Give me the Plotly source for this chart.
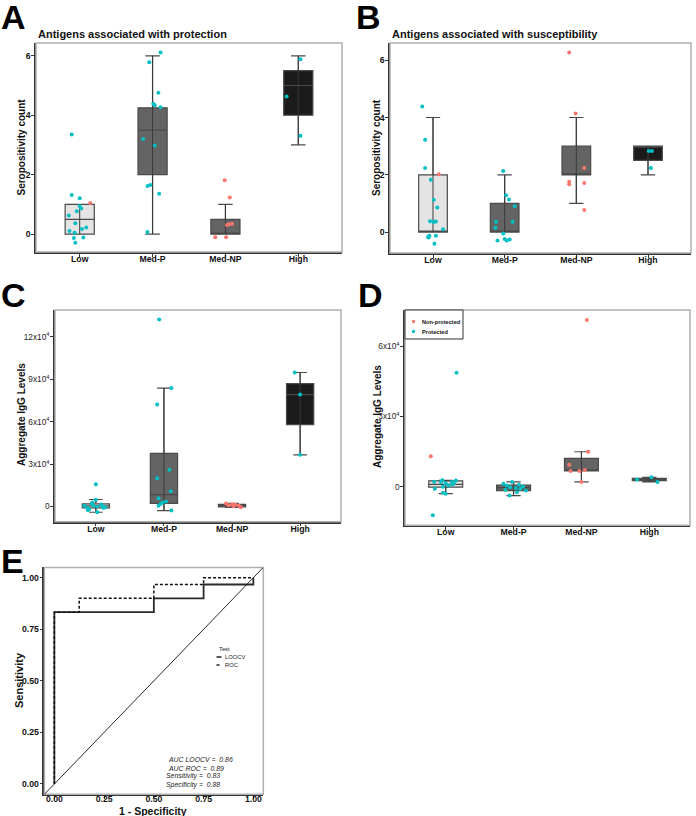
import plotly.graph_objects as go

W, H = 696, 816
FONT = "Liberation Sans, Arial, sans-serif"

categories = ["Low", "Med-P", "Med-NP", "High"]
box_fills = ["#E4E4E4", "#646464", "#646464", "#1B1B1B"]
C_PROT = "#00BFC4"
C_NONP = "#F8766D"

# status of each subject inside each group (N = non-protected, P = protected)
STATUS = {
    "Low": "NPPPPPPPPPPPPPPP",
    "Med-P": "PPPPPPPPPPPP",
    "Med-NP": "NNNNNNN",
    "High": "PPP",
}

# ---------------- Panel A : seropositivity, protection antigens ----------------
a_q1 = [0, 2, 0, 4]
a_med = [0.5, 3.5, 0, 5]
a_q3 = [1, 4.25, 0.5, 5.5]
a_lo = [0, 0, 0, 3]
a_hi = [1, 6, 1, 6]
a_y = {
    "Low": [1.05, 3.35, 1.32, 1.21, 0.95, 0.86, 0.77, 0.63, 0.37, 0.22, 0.17, 0.11, 0.05, -0.11, -0.13, -0.29],
    "Med-P": [6.11, 5.78, 4.76, 4.39, 4.34, 4.27, 3.20, 2.98, 1.65, 1.62, 1.36, 0.07],
    "Med-NP": [1.81, 1.23, 0.31, 0.35, 0.33, -0.10, -0.10],
    "High": [5.88, 4.63, 3.31],
}
a_jit = {
    "Low": [0.145, -0.11, -0.11, 0.0, 0.0, 0.02, -0.04, -0.15, -0.06, 0.09, 0.03, -0.14, -0.07, 0.05, -0.08, -0.06],
    "Med-P": [0.11, -0.045, 0.08, 0.01, 0.03, 0.11, -0.13, 0.03, -0.03, -0.07, 0.09, -0.07],
    "Med-NP": [-0.01, 0.06, 0.02, 0.09, 0.05, -0.14, 0.01],
    "High": [0.03, -0.16, 0.03],
}

# ---------------- Panel B : seropositivity, susceptibility antigens ----------------
b_q1 = [0, 0, 2, 2.5]
b_med = [0, 0, 2, 3]
b_q3 = [2, 1, 3, 3]
b_lo = [0, 0, 1, 2]
b_hi = [4, 2, 4, 3]
b_y = {
    "Low": [2.02, 4.38, 3.22, 2.24, 1.83, 1.13, 0.86, 0.38, 0.35, 0.37, 0.10, -0.17, -0.13, -0.13, -0.41, -0.19],
    "Med-P": [2.13, 1.29, 1.14, 0.90, 0.36, 0.36, 0.15, -0.05, -0.29, -0.24, -0.29, -0.26],
    "Med-NP": [6.27, 4.14, 2.24, 1.76, 1.67, 1.71, 0.77],
    "High": [2.83, 2.83, 2.24],
}
b_jit = {
    "Low": [0.08, -0.15, -0.11, -0.11, -0.03, 0.01, 0.06, -0.04, 0.01, 0.04, 0.14, -0.07, -0.05, 0.04, 0.02, -0.06],
    "Med-P": [-0.02, 0.02, 0.06, 0.14, -0.12, 0.11, -0.13, -0.02, -0.10, 0.0, 0.03, 0.07],
    "Med-NP": [-0.10, -0.01, 0.11, -0.10, -0.10, 0.11, 0.11],
    "High": [0.01, 0.055, 0.04],
}

# ---------------- Panel C : aggregate IgG, protection antigens ----------------
c_q1 = [-900, 2300, -200, 57900]
c_med = [500, 8500, 800, 79200]
c_q3 = [1900, 37600, 1600, 87000]
c_lo = [-4000, -2800, -500, 36600]
c_hi = [5000, 83800, 2200, 94800]
c_y = {
    "Low": [1000, 15800, 4800, 2800, 2000, 1500, 500, 500, 200, 0, -400, -900, -900, -2100, -2400, -4000],
    "Med-P": [132300, 83800, 72100, 26000, 20100, 10800, 5900, 3500, 2800, 1900, 500, -2800],
    "Med-NP": [2200, 1700, 1300, 900, 600, 300, -400],
    "High": [94800, 79200, 36600],
}
c_jit = {
    "Low": [0.0, 0.0, 0.0, -0.05, -0.06, 0.08, -0.17, -0.03, 0.10, 0.02, 0.14, -0.12, 0.11, -0.10, -0.12, 0.02],
    "Med-P": [-0.07, 0.11, -0.10, 0.08, -0.10, 0.10, -0.08, 0.03, -0.02, -0.05, -0.08, 0.11],
    "Med-NP": [-0.09, 0.0, 0.05, -0.05, 0.10, 0.02, 0.13],
    "High": [-0.08, 0.0, 0.0],
}

# ---------------- Panel D : aggregate IgG, susceptibility antigens ----------------
d_q1 = [-200, -1700, 6700, 2550]
d_med = [1000, -400, 7000, 3100]
d_q3 = [2500, 700, 12100, 3550]
d_lo = [-3000, -3800, 2000, 2000]
d_hi = [2700, 2000, 14900, 4000]
d_y = {
    "Low": [13000, 48600, -12200, 2700, 2600, 2100, 2000, 2000, 1400, 1400, 900, 500, 0, -900, -2600, -3000],
    "Med-P": [2000, 1200, 800, 500, 100, -300, -600, -900, -1300, -1600, -2400, -3800],
    "Med-NP": [71100, 14900, 9300, 7100, 6700, 6700, 2000],
    "High": [4000, 3100, 2000],
}
d_jit = {
    "Low": [-0.22, 0.16, -0.19, -0.05, 0.15, -0.17, 0.09, -0.07, 0.12, 0.0, 0.10, 0.04, -0.04, -0.16, -0.04, 0.0],
    "Med-P": [-0.02, -0.15, 0.08, -0.10, 0.14, -0.05, 0.03, 0.10, -0.12, 0.18, 0.05, -0.06],
    "Med-NP": [0.08, 0.10, -0.18, 0.05, -0.16, -0.03, 0.0],
    "High": [0.03, -0.18, 0.12],
}

# ---------------- Panel E : ROC curves ----------------
loocv_fpr = [0, 0, 0.5, 0.75, 1.0]
loocv_tpr = [0, 0.833, 0.9, 0.967, 1.0]
roc_fpr = [0, 0, 0.125, 0.5, 0.75, 1.0]
roc_tpr = [0, 0.833, 0.9, 0.967, 1.0, 1.0]
e_stats = ["AUC LOOCV =  0.86", "AUC ROC =  0.89", "Sensitivity =  0.83", "Specificity =  0.88"]
e_ticks = [0, 0.25, 0.5, 0.75, 1.0]

# ---------------- layout helpers ----------------
def px(x):
    return x / W


def py(y):
    return 1 - y / H


fig = go.Figure()

BOX_LINE = "#4a4a4a"
WHISK = "#3a3a3a"


def axis_names(k):
    return ("x" if k == 1 else f"x{k}"), ("y" if k == 1 else f"y{k}")


def add_box_panel(k, ys, jit, q1, med, q3, lo, hi, width, capfrac):
    xa, ya = axis_names(k)
    for i, cat in enumerate(categories):
        fig.add_trace(go.Box(
            x=[i], q1=[q1[i]], median=[med[i]], q3=[q3[i]],
            lowerfence=[lo[i]], upperfence=[hi[i]],
            width=width, whiskerwidth=capfrac, fillcolor=box_fills[i],
            line=dict(color=BOX_LINE, width=1.2), boxpoints=False,
            xaxis=xa, yaxis=ya, showlegend=False, hoverinfo="skip"))
        fig.add_trace(go.Scatter(
            x=[i, i], y=[lo[i], hi[i]], mode="lines",
            line=dict(color=WHISK, width=1), xaxis=xa, yaxis=ya,
            showlegend=False, hoverinfo="skip"))
    for st, color, name in [("N", C_NONP, "Non-protected"), ("P", C_PROT, "Protected")]:
        xs, yv = [], []
        for i, cat in enumerate(categories):
            for y, d, s in zip(ys[cat], jit[cat], STATUS[cat]):
                if s == st:
                    xs.append(i + d)
                    yv.append(y)
        fig.add_trace(go.Scatter(
            x=xs, y=yv, mode="markers", name=name,
            marker=dict(color=color, size=4), xaxis=xa, yaxis=ya,
            showlegend=False))


add_box_panel(1, a_y, a_jit, a_q1, a_med, a_q3, a_lo, a_hi, 0.4, 0.5)
add_box_panel(2, b_y, b_jit, b_q1, b_med, b_q3, b_lo, b_hi, 0.4, 0.5)
add_box_panel(3, c_y, c_jit, c_q1, c_med, c_q3, c_lo, c_hi, 0.4, 0.5)
add_box_panel(4, d_y, d_jit, d_q1, d_med, d_q3, d_lo, d_hi, 0.5, 0.42)

# ROC
fig.add_trace(go.Scatter(x=loocv_fpr, y=loocv_tpr, mode="lines", name="LOOCV",
                         line=dict(color="#2a2a2a", width=1.8, shape="hv"),
                         xaxis="x5", yaxis="y5", showlegend=False))
fig.add_trace(go.Scatter(x=roc_fpr, y=roc_tpr, mode="lines", name="ROC",
                         line=dict(color="#111111", width=1.5, shape="hv", dash="3px,2px"),
                         xaxis="x5", yaxis="y5", showlegend=False))

domains = {
    1: ([36, 342], [43, 252]),
    2: ([390, 691], [43, 253]),
    3: ([55, 341], [310, 521.7]),
    4: ([405, 690], [310, 525.3]),
    5: ([44.4, 263.3], [567.4, 794.3]),
}

sup = lambda n: f"{n}x10<sup>4</sup>"
yranges = {1: [-0.6, 6.43], 2: [-0.73, 6.6], 3: [-10700, 139000], 4: [-16500, 75400], 5: [-0.05, 1.05]}
yticks = {
    1: ([0, 2, 4, 6], ["0", "2", "4", "6"]),
    2: ([0, 2, 4, 6], ["0", "2", "4", "6"]),
    3: ([0, 30000, 60000, 90000, 120000], ["0", sup(3), sup(6), sup(9), sup(12)]),
    4: ([0, 30000, 60000], ["0", sup(3), sup(6)]),
    5: (e_ticks, [f"{v:.2f}" for v in e_ticks]),
}

bold9 = dict(family=FONT, size=8.7, color="#111", weight="bold")
reg8 = dict(family=FONT, size=8.3, color="#262626")

layout = dict(
    width=W, height=H, autosize=False,
    margin=dict(l=0, r=0, t=0, b=0),
    paper_bgcolor="white", plot_bgcolor="white",
    font=dict(family=FONT, color="#111"),
    showlegend=False,
)

for k, (dx, dy) in domains.items():
    xn = "xaxis" if k == 1 else f"xaxis{k}"
    yn = "yaxis" if k == 1 else f"yaxis{k}"
    common = dict(showline=True, linecolor="#333", linewidth=1.5, mirror=False,
                  ticks="outside", ticklen=3, tickcolor="#333", tickwidth=1,
                  showgrid=False, zeroline=False, fixedrange=True)
    if k == 5:
        xr = [-0.05, 1.05]
        xtv, xtt = e_ticks, [f"{v:.2f}" for v in e_ticks]
        xstand = -7
    else:
        xr = [-0.6, 3.6]
        xtv, xtt = [0, 1, 2, 3], categories
        xstand = -5
    layout[xn] = dict(domain=[px(dx[0]), px(dx[1])], range=xr, tickvals=xtv, ticktext=xtt,
                      tickfont=bold9, ticklabelstandoff=xstand,
                      anchor="y" if k == 1 else f"y{k}", **common)
    layout[yn] = dict(domain=[py(dy[1]), py(dy[0])], range=yranges[k],
                      tickvals=yticks[k][0], ticktext=yticks[k][1],
                      tickfont=reg8 if k in (3, 4) else bold9, ticklabelstandoff=-1,
                      anchor="x" if k == 1 else f"x{k}", **common)

shapes = []
for k in domains:
    xa, ya = axis_names(k)
    shapes.append(dict(type="rect", xref=f"{xa} domain", yref=f"{ya} domain",
                       x0=0, x1=1, y0=0, y1=1, line=dict(color="#b0b0b0", width=1.5),
                       layer="above"))
# identity reference line in panel E
shapes.append(dict(type="line", xref="x5", yref="y5",
                   x0=yranges[5][0], y0=yranges[5][0], x1=yranges[5][1], y1=yranges[5][1],
                   line=dict(color="#111", width=0.9)))

ann = []
def text(x, y, t, size, bold=True, angle=0, xanchor="center", yanchor="middle", color="#111", italic=False):
    ann.append(dict(x=px(x), y=py(y), xref="paper", yref="paper", text=t, showarrow=False,
                    textangle=angle, xanchor=xanchor, yanchor=yanchor,
                    font=dict(family=FONT, size=size, color=color,
                              weight="bold" if bold else "normal",
                              style="italic" if italic else "normal")))

# ---- legend of panel D (drawn as a key box) ----
shapes.append(dict(type="rect", xref="paper", yref="paper", x0=px(405), x1=px(463),
                   y0=py(339), y1=py(310), line=dict(color="#333", width=1),
                   fillcolor="white", layer="above"))
for (lab, col), yy in zip([("Non-protected", C_NONP), ("Protected", C_PROT)], [321.5, 331.5]):
    shapes.append(dict(type="circle", xref="paper", yref="paper",
                       x0=px(411.8), x1=px(415.2), y0=py(yy + 1.7), y1=py(yy - 1.7),
                       line=dict(width=0), fillcolor=col, layer="above"))
    text(419.5, yy, lab, 5.6, xanchor="left")

# ---- legend of panel E ----
text(216.5, 649, "Test", 5.8, bold=False, xanchor="left", color="#222")
for (lab, dash), yy in zip([("LOOCV", "solid"), ("ROC", "dot")], [657, 665]):
    shapes.append(dict(type="line", xref="paper", yref="paper",
                       x0=px(216.5), x1=px(221.5), y0=py(yy), y1=py(yy),
                       line=dict(color="#222", width=1.5, dash=dash), layer="above"))
    text(222.5, yy, lab, 5.8, bold=False, xanchor="left", color="#222")

layout["shapes"] = shapes

# panel letters
for lab, (x, y) in {"A": (-1, -4), "B": (354, -4), "C": (-1, 274), "D": (356, 274), "E": (-1, 540)}.items():
    text(x, y, lab, 34, xanchor="left", yanchor="top", color="#000")
# titles
text(36, 34, "Antigens associated with protection", 11, xanchor="left")
text(390, 34, "Antigens associated with susceptibility", 11, xanchor="left")
# y-axis titles
text(21, 147.5, "Seropositivity count", 10, angle=-90)
text(376, 148, "Seropositivity count", 10, angle=-90)
text(21, 415, "Aggregate IgG Levels", 10, angle=-90)
text(378, 417, "Aggregate IgG Levels", 10, angle=-90)
text(19, 680, "Sensitivity", 11, angle=-90)
text(153, 811, "1 - Specificity", 10.5)
# stats in E
for t, (x, y) in zip(e_stats, [(166, 759.3), (165.5, 768), (164, 776.3), (164, 784.7)]):
    text(x, y, t, 6.9, bold=False, xanchor="left", color="#222", italic=True)
layout["annotations"] = ann

fig.update_layout(**layout)
fig.write_html("out.html", config={"displayModeBar": False},
               post_script="document.body.style.margin='0px';document.body.style.padding='0px';")
